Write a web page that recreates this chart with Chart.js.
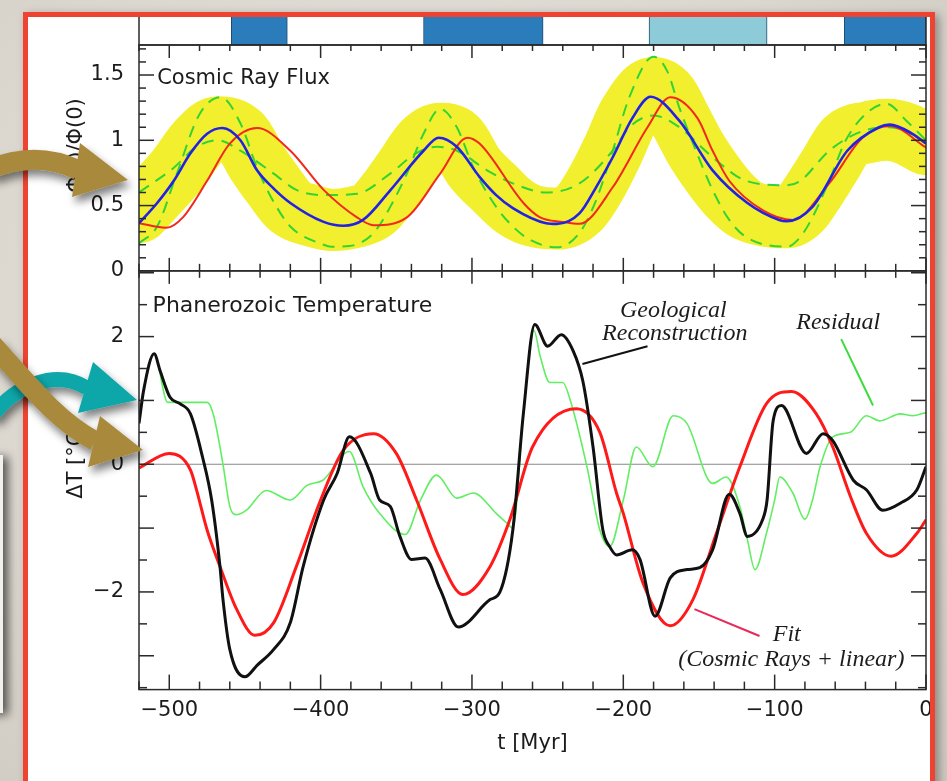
<!DOCTYPE html>
<html>
<head>
<meta charset="utf-8">
<script src="https://cdn.jsdelivr.net/npm/chart.js"></script>
<style>
  html, body { margin: 0; padding: 0; }
  body {
    width: 947px; height: 781px; overflow: hidden; position: relative;
    background: radial-gradient(ellipse at 45% 40%, #e7e4de 0%, #dbd7cf 65%, #cfcac1 100%);
  }
  #sidecard { position: absolute; left: -300px; top: 455px; width: 303px; height: 258px;
    background: #f2f1ee; box-shadow: 5px 2px 9px rgba(0,0,0,.6); }
  #framebg { position: absolute; left: 23px; top: 12px; width: 912px; height: 820px; background: #fff;
    box-shadow: 4px 3px 9px rgba(0,0,0,.35); }
  #chart { position: absolute; left: 0; top: 0; }
  #frame { position: absolute; left: 23px; top: 12px; width: 902px; height: 810px;
    border: 5px solid #ee4331; pointer-events: none; }
  #arrows { position: absolute; left: 0; top: 0; pointer-events: none; }
</style>
</head>
<body>
<div id="sidecard"></div>
<div id="framebg"></div>
<canvas id="chart" width="947" height="781"></canvas>
<div id="frame"></div>
<svg id="arrows" width="947" height="781">
  <defs>
    <filter id="sh" x="-40%" y="-40%" width="180%" height="180%">
      <feGaussianBlur in="SourceAlpha" stdDeviation="4"/>
      <feOffset dx="3" dy="6" result="b"/>
      <feComponentTransfer><feFuncA type="linear" slope="0.5"/></feComponentTransfer>
      <feMerge><feMergeNode/><feMergeNode in="SourceGraphic"/></feMerge>
    </filter>
  </defs>
  <g filter="url(#sh)" fill="#11a6a9" stroke="#11a6a9">
    <path d="M-8 416 C 15 386, 55 368, 87 388" stroke-width="15" fill="none"/>
    <polygon points="93,362 137,400 78,413" stroke="none"/>
  </g>
  <g filter="url(#sh)" fill="#a98a3e" stroke="#a98a3e">
    <path d="M-10 169 Q 36 150 78 170" stroke-width="20" fill="none"/>
    <polygon points="80,143 128,180 72,197" stroke="none"/>
  </g>
  <g filter="url(#sh)" fill="#a98a3e" stroke="#a98a3e">
    <path d="M-8 344 C 25 380, 55 420, 95 441" stroke-width="20" fill="none"/>
    <polygon points="100,416 143,450 88,467" stroke="none"/>
  </g>
</svg>
<script>
// --- climate eras on the top strip (Myr) ---
const eraStart = [-459, -332, -183, -54];
const eraEnd   = [-422, -253, -105, 0];
const eraKind  = ['icehouse', 'icehouse', 'partial', 'icehouse'];

// --- cosmic ray flux panel ---
const bandT = [-520,-508,-495,-480,-468,-453,-442,-431,-420,-405,-392,-378,-365,-354,-343,-332,-321,-310,-299,-284,-273,-262,-244,-229,-218,-207,-196,-180,-171,-163,-152,-141,-130,-119,-105,-92,-83,-75,-64,-53,-39,-26,-13,0];
const bandV = [0.45,0.6,0.77,1.0,1.10,1.04,0.83,0.65,0.49,0.42,0.39,0.41,0.47,0.62,0.80,0.98,1.05,1.01,0.80,0.62,0.50,0.43,0.40,0.48,0.67,0.92,1.20,1.40,1.34,1.17,0.93,0.74,0.58,0.47,0.42,0.41,0.47,0.60,0.80,1.00,1.06,1.08,1.05,0.97];

const blueT = [-520,-508,-497,-486,-475,-465,-453,-442,-431,-420,-398,-385,-372,-354,-332,-322,-310,-295,-284,-273,-251,-244,-229,-218,-207,-194,-182,-163,-141,-118,-97,-92,-75,-52,-31,-24,-9,0];
const blueV = [0.365,0.52,0.69,0.90,1.05,1.094,1.00,0.77,0.63,0.52,0.375,0.345,0.39,0.617,0.92,1.02,0.95,0.72,0.58,0.48,0.365,0.36,0.44,0.64,0.87,1.17,1.333,1.15,0.77,0.52,0.39,0.38,0.49,0.92,1.10,1.12,1.05,0.975];

const redT = [-520,-502,-491,-475,-460,-442,-420,-398,-376,-365,-343,-321,-303,-295,-266,-255,-240,-229,-207,-184,-169,-151,-141,-130,-108,-88,-64,-42,-24,0];
const redV = [0.365,0.33,0.41,0.69,0.975,1.094,0.92,0.62,0.41,0.35,0.41,0.745,1.02,0.975,0.52,0.41,0.375,0.36,0.64,1.10,1.33,1.17,0.92,0.69,0.465,0.39,0.67,1.02,1.11,0.945];

const dashAT = [-520,-508,-495,-480,-466,-453,-442,-433,-420,-398,-393,-381,-365,-354,-343,-332,-321,-310,-299,-284,-273,-262,-244,-229,-218,-207,-196,-180,-171,-163,-152,-141,-130,-119,-92,-83,-75,-64,-53,-39,-26,-13,0];
const dashAV = [0.21,0.34,0.745,1.2,1.33,1.13,0.79,0.57,0.34,0.20,0.185,0.19,0.29,0.49,0.745,1.05,1.24,1.10,0.79,0.49,0.34,0.24,0.18,0.29,0.54,0.92,1.33,1.64,1.53,1.25,0.92,0.62,0.39,0.26,0.185,0.26,0.41,0.69,1.0,1.21,1.28,1.15,1.0];

const dashBT = [-520,-497,-482,-468,-453,-431,-416,-398,-376,-354,-337,-323,-310,-290,-273,-251,-229,-207,-196,-180,-163,-141,-119,-92,-83,-64,-42,-24,0];
const dashBV = [0.60,0.79,0.95,1.0,0.92,0.745,0.62,0.58,0.59,0.745,0.90,0.95,0.92,0.77,0.67,0.60,0.67,0.92,1.10,1.19,1.10,0.87,0.69,0.655,0.69,0.92,1.07,1.10,1.0];

// --- temperature panel ---
const geoT = [-520,-517,-510,-506,-499.5,-493,-486,-478,-472,-466.5,-464.5,-460,-450,-442,-431,-420,-411.5,-398,-389,-381,-367,-361,-354,-347.6,-340,-331,-321,-309,-288,-281.5,-273,-266,-258.5,-250,-241,-233,-226.7,-220,-213.5,-209,-204.5,-194,-189,-179,-169,-158,-149.5,-141,-130,-123,-118,-108,-105,-101,-95.5,-79,-68,-61.6,-48,-39.4,-28.6,-17,-6,0];
const geoV = [0.64,1.15,1.73,1.46,1.05,0.95,0.79,0.11,-0.56,-1.6,-2.12,-2.9,-3.33,-3.15,-2.9,-2.48,-1.6,-0.56,-0.14,0.43,-0.14,-0.56,-0.66,-1.13,-1.49,-1.47,-1.96,-2.55,-2.12,-2.0,-1.03,0.8,2.19,1.85,2.03,1.77,1.3,0.27,-1.03,-1.29,-1.42,-1.34,-1.49,-2.38,-1.78,-1.65,-1.62,-1.34,-0.47,-0.77,-1.13,-0.87,-0.56,0.68,0.92,0.17,0.48,0.37,-0.25,-0.40,-0.72,-0.61,-0.40,-0.04];

const fitT = [-520,-500,-486,-482,-475,-466.5,-455.5,-443.4,-431,-416,-400,-385,-365,-350,-336.6,-321,-306,-288,-275,-260,-231,-215.5,-204.5,-200,-187,-169,-154,-138.5,-123,-105.4,-89,-72.5,-61.6,-50,-39.4,-23,-6,0];
const fitV = [-0.06,0.17,-0.09,-0.4,-1.03,-1.6,-2.27,-2.68,-2.48,-1.6,-0.56,0.22,0.48,0.17,-0.56,-1.49,-2.04,-1.6,-0.87,0.27,0.87,0.5,-0.45,-0.77,-1.86,-2.53,-2.12,-1.08,-0.04,0.95,1.14,0.79,0.27,-0.5,-1.08,-1.44,-1.08,-0.87];

const resT = [-520,-517,-510,-501,-475,-471,-464.5,-460,-455.5,-449,-436,-420,-409,-398.5,-381,-372,-361,-344,-334,-323.4,-310,-299,-284,-277,-273,-266,-259,-255,-248.5,-240,-235,-224,-215.5,-209,-200,-191.4,-180.5,-167,-158,-141,-132,-123,-118,-113,-105.4,-100,-96.6,-88,-80,-75,-70,-61.6,-50,-39.4,-30.6,-17,-8.8,0];
const resV = [0.64,1.15,1.73,0.97,0.97,0.79,0.0,-0.66,-0.79,-0.72,-0.41,-0.56,-0.33,-0.25,0.2,-0.35,-0.77,-1.1,-0.56,-0.17,-0.53,-0.45,-0.77,-0.92,-1.0,0.8,2.1,1.7,1.28,1.28,1.0,-0.04,-1.03,-1.29,-0.56,0.27,-0.04,0.76,0.64,-0.3,-0.2,-0.66,-1.18,-1.65,-1.08,-0.56,-0.2,-0.45,-0.86,-0.56,-0.04,0.43,0.5,0.76,0.68,0.79,0.76,0.81];

const zeroT = [-520, 0];
const zeroV = [0, 0];

// labels placed in data coordinates
const notes = [
  { text: 'Cosmic Ray Flux', t: -508, v: 1.43, axis: 'yFlux', font: '21px "DejaVu Sans"', align: 'left' },
  { text: 'Phanerozoic Temperature', t: -511, v: 2.38, axis: 'yTemp', font: '22px "DejaVu Sans"', align: 'left' },
  { text: 'Geological', t: -167, v: 2.31, axis: 'yTemp', font: 'italic 24px "Liberation Serif"', align: 'center' },
  { text: 'Reconstruction', t: -166, v: 1.95, axis: 'yTemp', font: 'italic 24px "Liberation Serif"', align: 'center' },
  { text: 'Residual', t: -58, v: 2.12, axis: 'yTemp', font: 'italic 24px "Liberation Serif"', align: 'center' },
  { text: 'Fit', t: -92, v: -2.77, axis: 'yTemp', font: 'italic 24px "Liberation Serif"', align: 'center' },
  { text: '(Cosmic Rays + linear)', t: -89, v: -3.16, axis: 'yTemp', font: 'italic 24px "Liberation Serif"', align: 'center' }
];
const leaders = [
  { t1: -184, v1: 1.85, t2: -227, v2: 1.57, color: '#111' },
  { t1: -56, v1: 1.96, t2: -35, v2: 0.92, color: '#3ddc3d' },
  { t1: -153, v1: -2.27, t2: -110, v2: -2.69, color: '#e8275a' }
];
const axisTitles = [
  { text: '\u03A6(t)/\u03A6(0)', axis: 'yFlux', v: 0.96 },
  { text: '\u0394T [\u00B0C]', axis: 'yTemp', v: 0.05 }
];

const eraColors = { icehouse: '#2b7cba', partial: '#8dcbd9' };
const ink = '#1c1c1c';
const tickFont = { family: 'DejaVu Sans', size: 21 };

const pts = (ts, vs) => ts.map((t, i) => ({ x: t, y: vs[i] }));
const near = (v, step) => Math.abs(v / step - Math.round(v / step)) < 1e-6;
const minus = v => (v < 0 ? '\u2212' + Math.abs(v) : String(v));

const eraSets = eraStart.map((s, i) => ({
  type: 'bar', indexAxis: 'y', xAxisID: 'x', yAxisID: 'yBar',
  data: [{ x: [s, eraEnd[i]], y: 'era' }],
  backgroundColor: eraColors[eraKind[i]], borderColor: '#1e4d72', borderWidth: 1,
  borderSkipped: false, grouped: false, barPercentage: 1, categoryPercentage: 1
}));

const line = (ts, vs, axis, color, width, extra) => Object.assign({
  data: pts(ts, vs), yAxisID: axis, borderColor: color, borderWidth: width,
  pointRadius: 0, fill: false, cubicInterpolationMode: 'monotone'
}, extra || {});

// panel borders, inward tick marks and text
const panelFrame = {
  id: 'panelFrame',
  afterDatasetsDraw(chart) {
    const { ctx, scales } = chart;
    const { x, yBar, yFlux, yTemp } = scales;
    const seg = (x1, y1, x2, y2) => { ctx.beginPath(); ctx.moveTo(x1, y1); ctx.lineTo(x2, y2); ctx.stroke(); };
    ctx.save();
    ctx.strokeStyle = '#2a2a2a';
    ctx.lineWidth = 1.5;
    [yBar, yFlux, yTemp].forEach(s => ctx.strokeRect(x.left, s.top, x.right - x.left, s.bottom - s.top));

    x.ticks.forEach(tk => {
      const px = x.getPixelForValue(tk.value);
      const major = near(tk.value, 100);
      seg(px, yFlux.top, px, yFlux.top + (major ? 13 : 6));
      seg(px, yFlux.bottom - (major ? 13 : 7), px, yFlux.bottom + (major ? 13 : 7));
      seg(px, yTemp.bottom, px, yTemp.bottom - (major ? 15 : 8));
    });
    yFlux.ticks.forEach(tk => {
      const py = yFlux.getPixelForValue(tk.value);
      const len = near(tk.value, 0.5) ? 15 : 7;
      seg(x.left, py, x.left + len, py);
      seg(x.right, py, x.right - len, py);
    });
    yTemp.ticks.forEach(tk => {
      const py = yTemp.getPixelForValue(tk.value);
      const len = near(tk.value, 1) ? 15 : 8;
      seg(x.left, py, x.left + len, py);
      seg(x.right, py, x.right - len, py);
    });

    leaders.forEach(l => {
      ctx.strokeStyle = l.color;
      ctx.lineWidth = 2;
      seg(x.getPixelForValue(l.t1), yTemp.getPixelForValue(l.v1), x.getPixelForValue(l.t2), yTemp.getPixelForValue(l.v2));
    });

    ctx.fillStyle = ink;
    ctx.textBaseline = 'alphabetic';
    notes.forEach(n => {
      ctx.font = n.font;
      ctx.textAlign = n.align;
      ctx.fillText(n.text, x.getPixelForValue(n.t), scales[n.axis].getPixelForValue(n.v));
    });

    ctx.font = '21px "DejaVu Sans"';
    ctx.textAlign = 'center';
    ctx.textBaseline = 'middle';
    axisTitles.forEach(a => {
      ctx.save();
      ctx.translate(77, scales[a.axis].getPixelForValue(a.v));
      ctx.rotate(-Math.PI / 2);
      ctx.fillText(a.text, 0, 0);
      ctx.restore();
    });
    ctx.restore();
  }
};

const hideGrid = { display: false, drawTicks: false };
// fixed axis width so the three stacked panels line up, and no label overflow padding
const fixWidth = s => { s.width = 139; s.paddingTop = 0; s.paddingBottom = 0; };

new Chart(document.getElementById('chart'), {
  type: 'line',
  data: {
    datasets: [
      ...eraSets,
      line(blueT, blueV, 'yFlux', '#2222e4', 2.6),
      line(redT, redV, 'yFlux', '#f2281c', 2),
      line(dashAT, dashAV, 'yFlux', '#34d334', 2, { borderDash: [12, 8] }),
      line(dashBT, dashBV, 'yFlux', '#34d334', 2, { borderDash: [12, 8] }),
      line(bandT, bandV, 'yFlux', '#f2ef2e', 62, { borderCapStyle: 'round', borderJoinStyle: 'round', clip: 0 }),
      line(geoT, geoV, 'yTemp', '#111111', 3),
      line(fitT, fitV, 'yTemp', '#ff1a1a', 3),
      line(resT, resV, 'yTemp', '#62ee62', 1.6),
      line(zeroT, zeroV, 'yTemp', '#888888', 1.2)
    ]
  },
  options: {
    responsive: false,
    animation: false,
    layout: { autoPadding: false, padding: { left: 0, right: 21, top: 15, bottom: 25 } },
    plugins: { legend: { display: false }, tooltip: { enabled: false } },
    scales: {
      x: {
        type: 'linear', min: -520, max: 0,
        grid: hideGrid, border: { display: false },
        ticks: {
          stepSize: 20, autoSkip: false, maxRotation: 0, includeBounds: false, padding: 8,
          font: tickFont, color: ink,
          callback: v => (near(v, 100) ? minus(Math.round(v)) : '')
        },
        title: { display: true, text: 't [Myr]', font: tickFont, color: ink, padding: { top: 0, bottom: 0 } }
      },
      yBar: {
        type: 'category', labels: ['era'], offset: true, position: 'left',
        stack: 'panels', stackWeight: 30, weight: 3,
        grid: hideGrid, border: { display: false }, ticks: { display: false },
        afterFit: fixWidth
      },
      yFlux: {
        type: 'linear', min: 0, max: 1.73, position: 'left',
        stack: 'panels', stackWeight: 226, weight: 2,
        grid: hideGrid, border: { display: false },
        ticks: {
          stepSize: 0.1, autoSkip: false, includeBounds: false, padding: 15,
          font: tickFont, color: ink,
          callback: v => (near(v, 0.5) ? String(+v.toFixed(1)) : '')
        },
        afterFit: fixWidth
      },
      yTemp: {
        type: 'linear', min: -3.53, max: 3.03, position: 'left',
        stack: 'panels', stackWeight: 419, weight: 1,
        grid: hideGrid, border: { display: false },
        ticks: {
          stepSize: 0.5, autoSkip: false, includeBounds: false, padding: 15,
          font: tickFont, color: ink,
          callback: v => (near(v, 2) ? minus(Math.round(v)) : '')
        },
        afterFit: fixWidth
      }
    }
  },
  plugins: [panelFrame]
});
</script>
</body>
</html>
